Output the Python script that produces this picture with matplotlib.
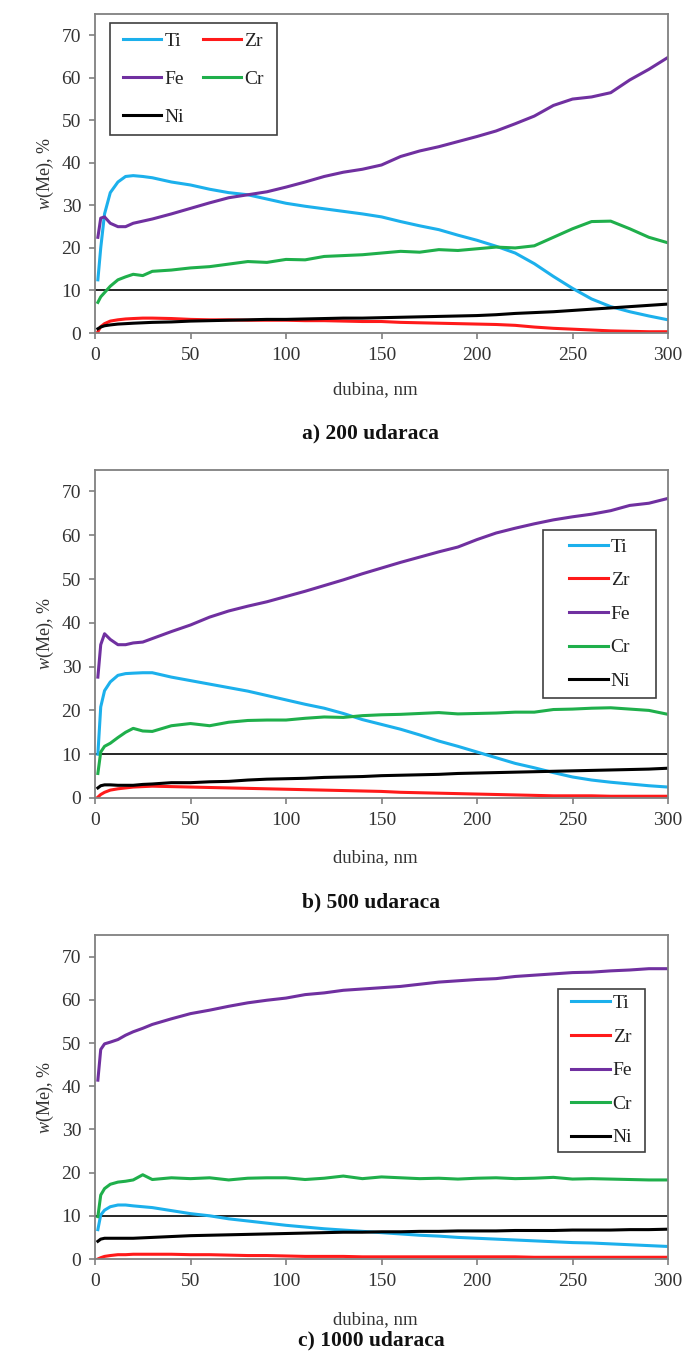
import matplotlib
matplotlib.use("Agg")
import matplotlib.pyplot as plt
from matplotlib.patches import Rectangle

plt.rcParams["font.family"] = ["Liberation Serif", "DejaVu Serif"]
plt.rcParams["mathtext.fontset"] = "custom"
plt.rcParams["mathtext.it"] = "Liberation Serif:italic"
plt.rcParams["mathtext.rm"] = "Liberation Serif"

# depth grid, nm
depth = [1.5, 3, 5, 8, 12, 16, 20, 25, 30, 40, 50, 60, 70, 80, 90, 100, 110, 120,
         130, 140, 150, 160, 170, 180, 190, 200, 210, 220, 230, 240, 250, 260, 270,
         280, 290, 300]

# a) 200 udaraca
ti_a = [12.5, 20.0, 28.0, 33.0, 35.5, 36.8, 37.0, 36.8, 36.5, 35.5, 34.8, 33.8, 33.0,
        32.5, 31.5, 30.5, 29.8, 29.2, 28.6, 28.0, 27.3, 26.2, 25.2, 24.3, 23.0, 21.8,
        20.4, 18.8, 16.3, 13.3, 10.5, 8.0, 6.2, 5.0, 4.0, 3.1]
zr_a = [0.3, 1.5, 2.2, 2.8, 3.1, 3.3, 3.4, 3.5, 3.5, 3.4, 3.2, 3.1, 3.1, 3.0, 3.0, 3.0,
        2.9, 2.9, 2.8, 2.7, 2.7, 2.5, 2.4, 2.3, 2.2, 2.1, 2.0, 1.8, 1.4, 1.1, 0.9, 0.7,
        0.5, 0.4, 0.3, 0.3]
fe_a = [22.5, 27.0, 27.3, 25.8, 25.0, 25.0, 25.8, 26.3, 26.8, 28.0, 29.3, 30.6, 31.8,
        32.5, 33.2, 34.3, 35.5, 36.8, 37.8, 38.5, 39.5, 41.5, 42.8, 43.8, 45.0, 46.2,
        47.5, 49.2, 51.0, 53.5, 55.0, 55.5, 56.5, 59.5, 62.0, 64.8]
cr_a = [7.2, 8.5, 9.5, 11.0, 12.5, 13.2, 13.8, 13.5, 14.5, 14.8, 15.3, 15.6, 16.2, 16.8,
        16.6, 17.3, 17.2, 18.0, 18.2, 18.4, 18.8, 19.2, 19.0, 19.6, 19.4, 19.8, 20.2,
        20.0, 20.5, 22.5, 24.5, 26.2, 26.3, 24.5, 22.5, 21.2]
ni_a = [1.0, 1.4, 1.7, 1.9, 2.1, 2.2, 2.3, 2.4, 2.5, 2.6, 2.8, 2.9, 3.0, 3.1, 3.2, 3.2,
        3.3, 3.4, 3.5, 3.5, 3.6, 3.7, 3.8, 3.9, 4.0, 4.1, 4.3, 4.6, 4.8, 5.0, 5.3, 5.6,
        5.9, 6.2, 6.5, 6.8]

# b) 500 udaraca
ti_b = [10.0, 20.8, 24.5, 26.5, 28.0, 28.4, 28.5, 28.6, 28.6, 27.6, 26.8, 26.0, 25.2,
        24.4, 23.4, 22.4, 21.4, 20.5, 19.3, 17.9, 16.8, 15.7, 14.4, 13.0, 11.8, 10.5,
        9.2, 7.9, 6.9, 5.8, 4.8, 4.1, 3.6, 3.2, 2.8, 2.5]
zr_b = [0.2, 0.8, 1.3, 1.8, 2.1, 2.3, 2.5, 2.6, 2.7, 2.6, 2.5, 2.4, 2.3, 2.2, 2.1, 2.0,
        1.9, 1.8, 1.7, 1.6, 1.5, 1.3, 1.2, 1.1, 1.0, 0.9, 0.8, 0.7, 0.6, 0.5, 0.5, 0.5,
        0.4, 0.4, 0.4, 0.4]
fe_b = [27.6, 35.0, 37.5, 36.2, 35.0, 35.0, 35.4, 35.6, 36.4, 38.0, 39.5, 41.3, 42.7,
        43.8, 44.8, 46.0, 47.2, 48.5, 49.8, 51.2, 52.5, 53.8, 55.0, 56.2, 57.3, 59.0,
        60.5, 61.6, 62.6, 63.5, 64.2, 64.8, 65.6, 66.8, 67.3, 68.4]
cr_b = [5.6, 10.5, 11.8, 12.5, 13.8, 15.0, 15.9, 15.3, 15.2, 16.5, 17.0, 16.5, 17.3,
        17.7, 17.8, 17.8, 18.2, 18.5, 18.4, 18.8, 19.0, 19.1, 19.3, 19.5, 19.2, 19.3,
        19.4, 19.6, 19.6, 20.2, 20.3, 20.5, 20.6, 20.3, 20.0, 19.1]
ni_b = [2.3, 2.8, 3.0, 3.0, 2.9, 2.9, 2.9, 3.1, 3.2, 3.5, 3.5, 3.7, 3.8, 4.1, 4.3, 4.4,
        4.5, 4.7, 4.8, 4.9, 5.1, 5.2, 5.3, 5.4, 5.6, 5.7, 5.8, 5.9, 6.0, 6.1, 6.2, 6.3,
        6.4, 6.5, 6.6, 6.8]

# c) 1000 udaraca
ti_c = [6.8, 10.2, 11.3, 12.1, 12.5, 12.5, 12.3, 12.1, 11.9, 11.2, 10.5, 10.0, 9.3, 8.8,
        8.3, 7.8, 7.4, 7.0, 6.7, 6.4, 6.1, 5.8, 5.5, 5.3, 5.0, 4.8, 4.6, 4.4, 4.2, 4.0,
        3.8, 3.7, 3.5, 3.3, 3.1, 2.9]
zr_c = [0.0, 0.3, 0.6, 0.8, 1.0, 1.0, 1.1, 1.1, 1.1, 1.1, 1.0, 1.0, 0.9, 0.8, 0.8, 0.7,
        0.6, 0.6, 0.6, 0.5, 0.5, 0.5, 0.5, 0.5, 0.5, 0.5, 0.5, 0.5, 0.4, 0.4, 0.4, 0.4,
        0.4, 0.4, 0.4, 0.4]
fe_c = [41.4, 48.5, 49.8, 50.2, 50.8, 51.8, 52.6, 53.4, 54.3, 55.6, 56.8, 57.6, 58.5,
        59.3, 59.9, 60.4, 61.2, 61.6, 62.2, 62.5, 62.8, 63.1, 63.6, 64.1, 64.4, 64.7,
        64.9, 65.4, 65.7, 66.0, 66.3, 66.4, 66.7, 66.9, 67.2, 67.2]
cr_c = [9.8, 14.8, 16.3, 17.3, 17.8, 18.0, 18.3, 19.5, 18.4, 18.8, 18.6, 18.8, 18.3,
        18.7, 18.8, 18.8, 18.4, 18.7, 19.2, 18.6, 19.0, 18.8, 18.6, 18.7, 18.5, 18.7,
        18.8, 18.6, 18.7, 18.9, 18.5, 18.6, 18.5, 18.4, 18.3, 18.3]
ni_c = [4.1, 4.6, 4.8, 4.8, 4.8, 4.8, 4.8, 4.9, 5.0, 5.2, 5.4, 5.5, 5.6, 5.7, 5.8, 5.9,
        6.0, 6.1, 6.2, 6.2, 6.3, 6.3, 6.4, 6.4, 6.5, 6.5, 6.5, 6.6, 6.6, 6.6, 6.7, 6.7,
        6.7, 6.8, 6.8, 6.9]

elements = ["Ti", "Zr", "Fe", "Cr", "Ni"]
colors = {"Ti": "#1cb0ec", "Zr": "#ff1a1a", "Fe": "#7030a0", "Cr": "#1faf4b", "Ni": "#000000"}
captions = ["a) 200 udaraca", "b) 500 udaraca", "c) 1000 udaraca"]
panels = [
    dict(zip(elements, [ti_a, zr_a, fe_a, cr_a, ni_a])),
    dict(zip(elements, [ti_b, zr_b, fe_b, cr_b, ni_b])),
    dict(zip(elements, [ti_c, zr_c, fe_c, cr_c, ni_c])),
]

W, H = 691, 1360
fig = plt.figure(figsize=(W / 100, H / 100), dpi=100)

# axes boxes in pixels: (left, top, right, bottom)
boxes = [(95, 14, 668, 333), (95, 469.5, 668, 798), (95, 935, 668, 1259)]
# legend frames in pixels: (left, top, right, bottom)
leg_boxes = [(110, 23, 277, 135), (543, 530, 656, 698), (558, 989, 645, 1152)]
xlabel_y = [390, 858, 1320]
caption_y = [433, 902, 1340]

grey = "#808080"
for i, (box, data) in enumerate(zip(boxes, panels)):
    l, t, r, b = box
    ax = fig.add_axes([l / W, 1 - b / H, (r - l) / W, (b - t) / H])
    ax.axhline(10, color="black", lw=1.2, zorder=1)
    lines = {}
    for el in elements:
        lines[el], = ax.plot(depth, data[el], color=colors[el], lw=2.2, label=el,
                             solid_joinstyle="round")
    ax.set_xlim(0, 300)
    ax.set_ylim(0, 75)
    ax.set_xticks(range(0, 301, 50))
    ax.set_yticks(range(0, 71, 10))
    ax.tick_params(direction="out", length=4, width=1.2, color=grey,
                   labelsize=14, labelcolor="#333333", pad=6)
    for s in ax.spines.values():
        s.set_color(grey)
        s.set_linewidth(1.3)
    ax.set_ylabel("$\\it{w}$(Me), %", fontsize=13, color="#333333", labelpad=4)
    fig.text(375 / W, 1 - xlabel_y[i] / H, "dubina, nm", ha="center", va="center",
             fontsize=13.5, color="#333333")
    fig.text(371 / W, 1 - caption_y[i] / H, captions[i], ha="center", va="center",
             fontsize=15.5, fontweight="bold", color="#111111")

    # legend frame
    bl, bt, br, bb = leg_boxes[i]
    ax.add_patch(Rectangle(((bl - l) / (r - l), (b - bb) / (b - t)),
                           (br - bl) / (r - l), (bb - bt) / (b - t),
                           transform=ax.transAxes, fill=True, facecolor="white",
                           edgecolor="#404040", lw=1.2, zorder=5))
    cx = ((bl + br) / 2 - l) / (r - l)
    cy = (b - (bt + bb) / 2) / (b - t)
    if i == 0:
        order = ["Ti", "Fe", "Ni", "Zr", "Cr"]
        leg = ax.legend([lines[e] for e in order], order, ncol=2, loc="center",
                        bbox_to_anchor=(cx, cy), frameon=False, fontsize=14,
                        handlelength=1.95, handletextpad=0.15, columnspacing=1.0,
                        labelspacing=1.05, borderpad=0)
    else:
        leg = ax.legend(loc="center", bbox_to_anchor=(cx, cy), frameon=False,
                        fontsize=14, handlelength=2.0, handletextpad=0.15,
                        labelspacing=0.82, borderpad=0)
    leg.set_zorder(6)
    for t_ in leg.get_texts():
        t_.set_color("#222222")

fig.savefig("out.png", dpi=100)
